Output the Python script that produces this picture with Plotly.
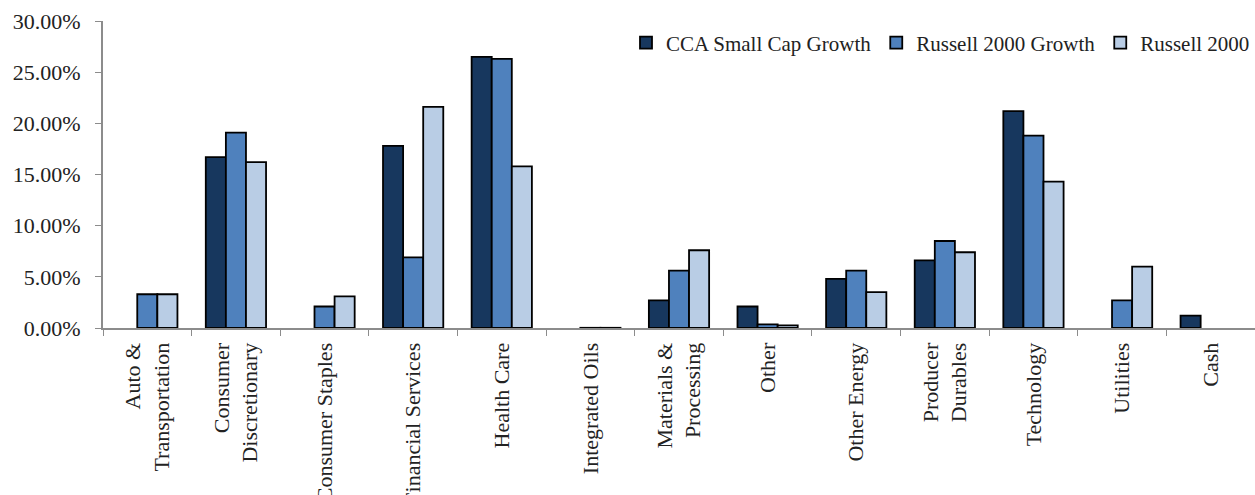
import plotly.graph_objects as go

categories = [
    "Auto &<br>Transportation", "Consumer<br>Discretionary", "Consumer Staples",
    "Financial Services", "Health Care", "Integrated Oils", "Materials &<br>Processing",
    "Other", "Other Energy", "Producer<br>Durables", "Technology", "Utilities", "Cash",
]
cca_small_cap_growth = [None, 16.7, None, 17.8, 26.5, None, 2.7, 2.1, 4.8, 6.6, 21.2, None, 1.2]
russell_2000_growth = [3.3, 19.1, 2.1, 6.9, 26.3, 0.02, 5.6, 0.35, 5.6, 8.5, 18.8, 2.7, None]
russell_2000 = [3.3, 16.2, 3.1, 21.6, 15.8, 0.02, 7.6, 0.25, 3.5, 7.4, 14.3, 6.0, None]

series = [
    ("CCA Small Cap Growth", cca_small_cap_growth, "#17375E"),
    ("Russell 2000 Growth", russell_2000_growth, "#4F81BD"),
    ("Russell 2000", russell_2000, "#B9CDE5"),
]

FONT = "Liberation Serif"
TXT = "#222222"
fig = go.Figure()
for name, vals, color in series:
    fig.add_trace(go.Bar(
        x=categories, y=vals, name=name,
        marker=dict(color=color, line=dict(color="#000000", width=1.8)),
    ))

fig.update_layout(
    width=1255, height=495,
    margin=dict(l=103, r=0, t=21, b=167),
    barmode="group", bargap=0.32, bargroupgap=0,
    plot_bgcolor="white", paper_bgcolor="white",
    font=dict(family=FONT, size=22, color=TXT),
    showlegend=True,
    legend=dict(orientation="h", x=1, xanchor="right", y=0.995, yanchor="top",
                font=dict(family=FONT, size=21, color=TXT),
                bgcolor="rgba(0,0,0,0)", itemwidth=30, tracegroupgap=0),
    xaxis=dict(
        tickangle=-90, showline=True, linecolor="#8C8C8C", linewidth=2,
        ticks="outside", tickson="boundaries", ticklen=6, tickcolor="#8C8C8C",
        tickfont=dict(family=FONT, size=22, color=TXT),
        ticklabelstandoff=4,
        automargin=False, showgrid=False,
    ),
    yaxis=dict(
        range=[0, 30], dtick=5, tickformat=".2f", ticksuffix="%",
        showline=True, linecolor="#8C8C8C", linewidth=2,
        ticks="outside", ticklen=6, tickcolor="#8C8C8C",
        showgrid=False, zeroline=False,
        tickfont=dict(family=FONT, size=22, color=TXT),
        ticklabelstandoff=10,
        automargin=False,
    ),
)

fig.write_html("out.html")
